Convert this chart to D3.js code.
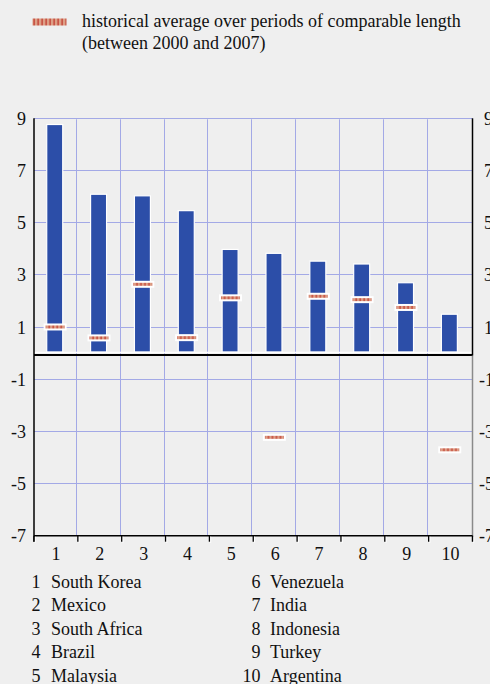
<!DOCTYPE html>
<html><head><meta charset="utf-8">
<script src="https://cdn.jsdelivr.net/npm/d3@7"></script>
<style>
html,body{margin:0;padding:0;background:#efefef;}
svg{display:block;font-family:"Liberation Serif","Times New Roman",serif;}
</style></head>
<body>
<svg id="c" width="490" height="684"></svg>
<script>
const categories = ["1","2","3","4","5","6","7","8","9","10"];
const countries = ["South Korea","Mexico","South Africa","Brazil","Malaysia","Venezuela","India","Indonesia","Turkey","Argentina"];
const current = [8.80, 6.12, 6.06, 5.49, 4.00, 3.85, 3.55, 3.44, 2.72, 1.51];
const historical = [1.02, 0.60, 2.66, 0.61, 2.14, -3.22, 2.20, 2.07, 1.77, -3.70];
const yTicks = [9, 7, 5, 3, 1, -1, -3, -5, -7];
const legendLines = ["historical average over periods of comparable length", "(between 2000 and 2007)"];

const svg = d3.select("#c");
const L = 34, R = 472.5, T = 119.3, B = 535.7;
const x = d3.scaleBand().domain(categories).range([L, R]).padding(0);
const y = d3.scaleLinear().domain([-7, 9]).range([B, T]);
const grid = "#a3a9e6";
const snap = v => Math.round(v) + 0.5;
const FS = 18;

// defs: pattern for marker
const defs = svg.append("defs");
const pat = defs.append("pattern").attr("id","dash").attr("patternUnits","userSpaceOnUse")
  .attr("width",4).attr("height",10).attr("x",0).attr("y",0);
pat.append("rect").attr("width",4).attr("height",10).attr("fill","#dd9f86");
pat.append("rect").attr("x",1.5).attr("width",1.2).attr("height",10).attr("fill","#c0352a");

// legend
svg.append("rect").attr("x",32.5).attr("y",18.5).attr("width",34).attr("height",7).attr("fill","url(#dash)");
svg.selectAll("text.leg").data(legendLines).join("text").attr("class","leg")
  .attr("x",82).attr("y",(d,i)=>27+i*22).attr("font-size",FS).attr("fill","#111").text(d=>d);

// grid
const g = svg.append("g");
g.selectAll("line.h").data(yTicks).join("line").attr("class","h")
  .attr("x1",L).attr("x2",R).attr("y1",d=>snap(y(d))-1).attr("y2",d=>snap(y(d))-1)
  .attr("stroke",grid).attr("stroke-width",1);
g.selectAll("line.v").data(categories.slice(1)).join("line").attr("class","v")
  .attr("x1",d=>snap(x(d)-1)-1).attr("x2",d=>snap(x(d)-1)-1).attr("y1",T).attr("y2",B)
  .attr("stroke",grid).attr("stroke-width",1);

// bars
const bw = 16;
svg.append("g").selectAll("rect").data(current).join("rect")
  .attr("x",(d,i)=>x(categories[i]) + x.bandwidth()/2 - bw/2 - 1.2)
  .attr("y",d=>y(d))
  .attr("width",bw).attr("height",d=>y(0)-y(d)-1.5)
  .attr("fill","#2c4ea8").attr("stroke","#ffffff").attr("stroke-width",1.2);

// zero line
svg.append("line").attr("x1",L).attr("x2",R+0.5).attr("y1",y(0)-1).attr("y2",y(0)-1).attr("stroke","#fff").attr("stroke-width",1.5);
svg.append("line").attr("x1",L).attr("x2",R+0.5).attr("y1",y(0)+1.5).attr("y2",y(0)+1.5).attr("stroke","#000").attr("stroke-width",2);

// historical markers
const mk = svg.append("g").selectAll("g").data(historical).join("g")
  .attr("transform",(d,i)=>`translate(${x(categories[i]) + x.bandwidth()/2 - 0.8},${y(d)})`);
mk.append("rect").attr("x",-11.5).attr("y",-3.5).attr("width",23).attr("height",7).attr("fill","#fff");
mk.append("rect").attr("x",-9.5).attr("y",-1.5).attr("width",19).attr("height",3).attr("fill","url(#dash)");

// left axis line
svg.append("line").attr("x1",L).attr("x2",L).attr("y1",T-1).attr("y2",B+6).attr("stroke","#000").attr("stroke-width",1.5);
// right axis
svg.append("line").attr("x1",R).attr("x2",R).attr("y1",T-1).attr("y2",y(0)+2).attr("stroke","#000").attr("stroke-width",1.5);
svg.append("line").attr("x1",R).attr("x2",R).attr("y1",y(0)+2).attr("y2",B+6).attr("stroke","#8a8a8a").attr("stroke-width",1.5);

// bottom axis
const xa = svg.append("g");
xa.append("line").attr("x1",L).attr("x2",R).attr("y1",B).attr("y2",B).attr("stroke","#000").attr("stroke-width",1.5);
const bounds = categories.map(c=>x(c)).concat([R]);
xa.selectAll("line.tw").data(bounds).join("line").attr("class","tw")
  .attr("x1",d=>d+1.2).attr("x2",d=>d+1.2).attr("y1",B+1).attr("y2",B+7).attr("stroke","#fff").attr("stroke-width",1.2);
xa.selectAll("line.tk").data(bounds).join("line").attr("class","tk")
  .attr("x1",d=>d).attr("x2",d=>d).attr("y1",B).attr("y2",B+6).attr("stroke","#000").attr("stroke-width",1.3);
xa.selectAll("text").data(categories).join("text")
  .attr("x",d=>x(d)+x.bandwidth()/2).attr("y",B+24.5).attr("text-anchor","middle")
  .attr("font-size",FS).attr("fill","#111").text(d=>d);

// y labels
svg.append("g").selectAll("text").data(yTicks).join("text")
  .attr("x",26).attr("y",d=>y(d)+6).attr("text-anchor","end").attr("font-size",FS).attr("fill","#111").text(d=>d);
svg.append("g").selectAll("text").data(yTicks).join("text")
  .attr("x",d=> d<0 ? 479 : 484).attr("y",d=>y(d)+6).attr("text-anchor","start").attr("font-size",FS).attr("fill","#111").text(d=>d);

// country list
const list = svg.append("g");
countries.forEach((c,i)=>{
  const col = Math.floor(i/5), row = i%5;
  const nx = col===0 ? 40.5 : 260.5, tx = col===0 ? 51 : 270;
  const yy = 588 + row*23.4;
  list.append("text").attr("x",nx).attr("y",yy).attr("text-anchor","end").attr("font-size",FS).attr("fill","#111").text(categories[i]);
  list.append("text").attr("x",tx).attr("y",yy).attr("font-size",FS).attr("fill","#111").text(c);
});
</script>
</body></html>
